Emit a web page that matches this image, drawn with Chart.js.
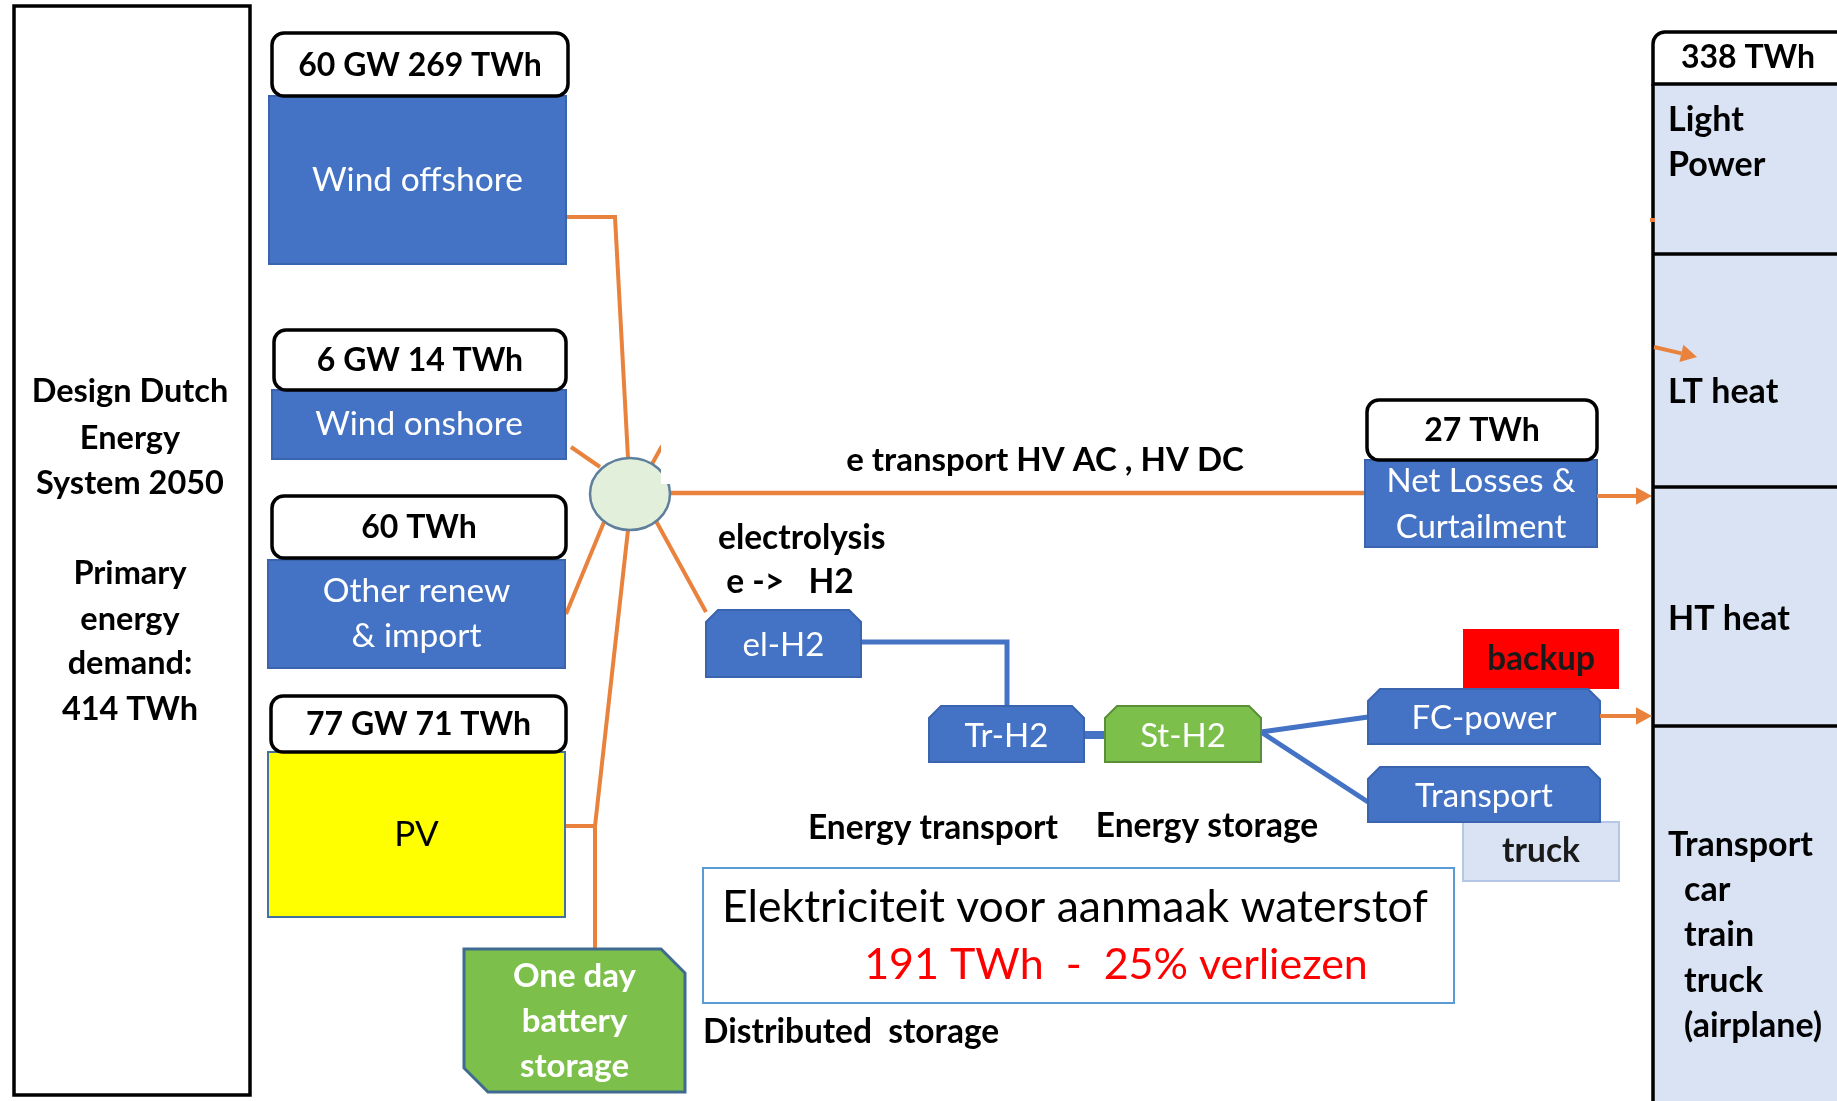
<!DOCTYPE html>
<html><head><meta charset="utf-8">
<script src="https://cdn.jsdelivr.net/npm/chart.js@4.4.1/dist/chart.umd.min.js"></script>
<style>html,body{margin:0;padding:0;background:#fff;overflow:hidden}canvas{display:block}</style>
</head><body>
<canvas id="c" width="1837" height="1101"></canvas>
<script>
// ---------------- DATA ----------------
const sourceNames = ['Wind offshore', 'Wind onshore', 'Other renew\n& import', 'PV'];
const sourceCapacityGW = [60, 6, null, 77];
const sourceEnergyTWh = [269, 14, 60, 71];
const primaryTitle = ['Design Dutch', 'Energy', 'System 2050', 'Primary', 'energy', 'demand:'];
const primaryDemandTWh = 414;
const finalDemandTWh = 338;
const demandCategories = [['Light', 'Power'], ['LT heat'], ['HT heat'], ['Transport', '  car', '  train', '  truck', '  (airplane)']];
const netLossesTWh = 27;
const netLossesName = ['Net Losses &', 'Curtailment'];
const h2Chain = ['el-H2', 'Tr-H2', 'St-H2'];
const h2Uses = ['FC-power', 'Transport'];
const h2UseTags = ['backup', 'truck'];
const storageName = ['One day', 'battery', 'storage'];
const h2ElectricityTWh = 191;
const h2LossPercent = 25;
const captions = {
  transport: 'e transport HV AC , HV DC',
  electrolysis: ['electrolysis', ' e ->   H2'],
  energyTransport: 'Energy transport',
  energyStorage: 'Energy storage',
  distributed: 'Distributed  storage',
  note: 'Elektriciteit voor aanmaak waterstof'
};

// ---------------- LAYOUT (diagram units = reference pixels) ----------------
const LAYOUT = {
  primary: [14, 6, 250, 1095],
  primaryLines: [392, 439, 484, 574, 620, 664, 710],
  sourceHdr: [[272, 33, 568, 96], [274, 330, 566, 390], [272, 496, 566, 558], [271, 696, 566, 752]],
  sourceBody: [[269, 96, 566, 264], [272, 390, 566, 459], [268, 560, 565, 668], [268, 752, 565, 917]],
  hub: [630, 494, 40, 36],
  battery: [464, 949, 685, 1092],
  lossHdr: [1367, 400, 1597, 460],
  lossBody: [1365, 460, 1597, 547],
  finalHdr: [1653, 32, 1860, 84],
  panel: [1653, 84, 1860, 1101],
  dividers: [254, 487, 726],
  elH2: [706, 610, 861, 677],
  trH2: [929, 706, 1084, 762],
  stH2: [1105, 706, 1261, 762],
  fc: [1368, 689, 1600, 744],
  tr: [1368, 767, 1600, 822],
  backup: [1463, 629, 1619, 689],
  truck: [1463, 822, 1619, 881],
  note: [703, 868, 1454, 1003]
};

const FONT = 'Lato, "Open Sans", sans-serif';
const BLUE = '#4472c4', ORANGE = '#e8823c', PANEL = '#dae3f3';

const diagramPlugin = {
  id: 'diagram',
  afterDraw(chart) {
    const ctx = chart.ctx, xs = chart.scales.x, ys = chart.scales.y;
    const X = v => xs.getPixelForValue(v), Y = v => ys.getPixelForValue(v);
    const R = r => [X(r[0]), Y(r[1]), X(r[2]), Y(r[3])];
    ctx.save();

    function rect(r, fill, stroke, lw) {
      const [a, b, c, d] = R(r);
      if (fill) { ctx.fillStyle = fill; ctx.fillRect(a, b, c - a, d - b); }
      if (stroke) { ctx.strokeStyle = stroke; ctx.lineWidth = lw || 1; ctx.strokeRect(a, b, c - a, d - b); }
    }
    function rrect(r, rad, fill, stroke, lw) {
      const [a, b, c, d] = R(r);
      ctx.beginPath(); ctx.roundRect(a, b, c - a, d - b, rad);
      if (fill) { ctx.fillStyle = fill; ctx.fill(); }
      if (stroke) { ctx.strokeStyle = stroke; ctx.lineWidth = lw; ctx.stroke(); }
    }
    function snipTop(r, cut, fill, stroke) {
      const [a, b, c, d] = R(r);
      ctx.beginPath();
      ctx.moveTo(a, b + cut); ctx.lineTo(a + cut, b); ctx.lineTo(c - cut, b); ctx.lineTo(c, b + cut);
      ctx.lineTo(c, d); ctx.lineTo(a, d); ctx.closePath();
      ctx.fillStyle = fill; ctx.fill();
      ctx.strokeStyle = stroke; ctx.lineWidth = 2; ctx.stroke();
    }
    function snipDiag(r, cut, fill, stroke) {
      const [a, b, c, d] = R(r);
      ctx.beginPath();
      ctx.moveTo(a, b); ctx.lineTo(c - cut, b); ctx.lineTo(c, b + cut);
      ctx.lineTo(c, d); ctx.lineTo(a + cut, d); ctx.lineTo(a, d - cut); ctx.closePath();
      ctx.fillStyle = fill; ctx.fill();
      ctx.strokeStyle = stroke; ctx.lineWidth = 3; ctx.stroke();
    }
    function line(pts, color, lw) {
      ctx.beginPath();
      pts.forEach((p, i) => i ? ctx.lineTo(X(p[0]), Y(p[1])) : ctx.moveTo(X(p[0]), Y(p[1])));
      ctx.strokeStyle = color; ctx.lineWidth = lw; ctx.lineJoin = 'miter'; ctx.stroke();
    }
    function arrow(p0, p1, color, lw, head) {
      const x0 = X(p0[0]), y0 = Y(p0[1]), x1 = X(p1[0]), y1 = Y(p1[1]);
      const ang = Math.atan2(y1 - y0, x1 - x0);
      const bx = x1 - head * Math.cos(ang), by = y1 - head * Math.sin(ang);
      ctx.beginPath(); ctx.moveTo(x0, y0); ctx.lineTo(bx, by);
      ctx.strokeStyle = color; ctx.lineWidth = lw; ctx.stroke();
      ctx.beginPath(); ctx.moveTo(x1, y1);
      ctx.lineTo(bx + head * 0.55 * Math.sin(ang), by - head * 0.55 * Math.cos(ang));
      ctx.lineTo(bx - head * 0.55 * Math.sin(ang), by + head * 0.55 * Math.cos(ang));
      ctx.closePath(); ctx.fillStyle = color; ctx.fill();
    }
    function text(s, x, y, size, color, weight, align) {
      ctx.font = (weight || 'normal') + ' ' + size + 'px ' + FONT;
      ctx.fillStyle = color; ctx.textAlign = align || 'center'; ctx.textBaseline = 'middle';
      ctx.fillText(s, X(x), Y(y));
    }
    function lines(arr, cx, cy, gap, size, color, weight, align) {
      const y0 = cy - gap * (arr.length - 1) / 2;
      arr.forEach((s, i) => text(s, cx, y0 + i * gap, size, color, weight, align));
    }
    const cx = r => (r[0] + r[2]) / 2, cy = r => (r[1] + r[3]) / 2;

    // ---- orange connectors (under boxes) ----
    const H = LAYOUT.hub;
    line([[566, 217], [615, 217], [628, H[1] - H[3]]], ORANGE, 4);
    line([[571, 447], [600, 467]], ORANGE, 4);
    line([[566, 614], [604, 522]], ORANGE, 4);
    line([[566, 826], [595, 826]], ORANGE, 4);
    line([[595, 949], [595, 826], [628, H[1] + H[3]]], ORANGE, 4);
    line([[656, 521], [706, 612]], ORANGE, 4);
    line([[652, 464], [662, 446]], ORANGE, 4);
    line([[H[0] + H[2], 493], [1365, 493]], ORANGE, 4.5);

    // ---- primary box ----
    rect(LAYOUT.primary, '#fff', '#000', 3.5);
    const pl = primaryTitle.concat([primaryDemandTWh + ' TWh']);
    pl.forEach((s, i) => text(s, 130, LAYOUT.primaryLines[i], 32.5, '#000', 'bold'));

    // ---- sources ----
    sourceNames.forEach((name, i) => {
      const hdr = LAYOUT.sourceHdr[i], body = LAYOUT.sourceBody[i];
      const isPV = name === 'PV';
      rect(body, isPV ? '#ffff00' : BLUE, isPV ? '#41719c' : '#3a64ad', 2);
      rrect(hdr, 12, '#fff', '#000', 3.5);
      const label = (sourceCapacityGW[i] != null ? sourceCapacityGW[i] + ' GW ' : '') + sourceEnergyTWh[i] + ' TWh';
      text(label, cx(hdr), cy(hdr) + 1, 32, '#000', 'bold');
      lines(name.split('\n'), cx(body), cy(body), 45, isPV ? 35 : 33.5, isPV ? '#000' : '#fff', 'normal');
    });

    // ---- hub ----
    ctx.beginPath(); ctx.ellipse(X(H[0]), Y(H[1]), H[2], H[3], 0, 0, Math.PI * 2);
    ctx.fillStyle = '#e2efda'; ctx.fill(); ctx.strokeStyle = '#5f7f9c'; ctx.lineWidth = 2.5; ctx.stroke();
    rect([661, 420, 712, 484], '#fff', null);

    // ---- battery ----
    snipDiag(LAYOUT.battery, 24, '#7cc04b', '#3e6b8f');
    lines(storageName, cx(LAYOUT.battery), 1021, 45, 33, '#fff', 'bold');

    // ---- transport caption ----
    text(captions.transport, 1045, 460, 33, '#000', 'bold');

    // ---- losses ----
    rect(LAYOUT.lossBody, BLUE, '#3a64ad', 2);
    rrect(LAYOUT.lossHdr, 12, '#fff', '#000', 3.5);
    text(netLossesTWh + ' TWh', cx(LAYOUT.lossHdr), cy(LAYOUT.lossHdr) + 1, 32, '#000', 'bold');
    lines(netLossesName, cx(LAYOUT.lossBody), 504, 46, 33, '#fff', 'normal');
    arrow([1597, 496], [1652, 496], ORANGE, 4, 16);

    // ---- right panel ----
    rect(LAYOUT.panel, PANEL, null);
    rrect(LAYOUT.finalHdr, [12, 0, 0, 0], '#fff', '#000', 3.5);
    text(finalDemandTWh + ' TWh', 1748, 58, 32, '#000', 'bold');
    line([[1653, 84], [1653, 1101]], '#000', 3.5);
    LAYOUT.dividers.forEach(y => line([[1653, y], [1837, y]], '#000', 3.5));
    const catY = [[120, 165], [392], [619], [845, 890, 935, 981, 1026]];
    demandCategories.forEach((cat, i) => cat.forEach((s, j) => {
      const ind = s.startsWith('  ');
      text(s.trim(), ind ? 1684 : 1668, catY[i][j], 34, '#000', 'bold', 'left');
    }));
    arrow([1654, 347], [1697, 357], ORANGE, 4, 16);
    line([[1650, 220], [1655, 220]], ORANGE, 4);

    // ---- electrolysis ----
    text(captions.electrolysis[0], 718, 538, 33.5, '#000', 'bold', 'left');
    text(captions.electrolysis[1], 718, 582, 33.5, '#000', 'bold', 'left');

    // ---- H2 chain ----
    line([[861, 642], [1007, 642], [1007, 706]], BLUE, 5);
    line([[1084, 735], [1105, 735]], BLUE, 8);
    line([[1261, 732], [1368, 717]], BLUE, 5);
    line([[1261, 732], [1368, 802]], BLUE, 5);
    const chainRects = [LAYOUT.elH2, LAYOUT.trH2, LAYOUT.stH2];
    h2Chain.forEach((s, i) => {
      const r = chainRects[i], green = s.startsWith('St');
      snipTop(r, 12, green ? '#7cc04b' : BLUE, green ? '#5a8f3a' : '#3a64ad');
      text(s, cx(r), cy(r) + 2, 33, '#fff', 'normal');
    });

    // ---- H2 uses ----
    rect(LAYOUT.backup, '#ff0000', null);
    text(h2UseTags[0], cx(LAYOUT.backup), cy(LAYOUT.backup), 33.5, '#1a1a1a', 'bold');
    rect(LAYOUT.truck, PANEL, '#b4c7e7', 2);
    [LAYOUT.fc, LAYOUT.tr].forEach((r, i) => {
      snipTop(r, 12, BLUE, '#3a64ad');
      text(h2Uses[i], cx(r), cy(r) + 2, 33, '#fff', 'normal');
    });
    text(h2UseTags[1], cx(LAYOUT.truck), cy(LAYOUT.truck), 33.5, '#1a1a1a', 'bold');
    arrow([1600, 716], [1652, 716], ORANGE, 4, 16);

    text(captions.energyTransport, 933, 828, 33.5, '#000', 'bold');
    text(captions.energyStorage, 1207, 826, 33.5, '#000', 'bold');

    // ---- note ----
    rect(LAYOUT.note, '#fff', '#5b9bd5', 2);
    text(captions.note, 1075, 908, 44.5, '#000', 'normal');
    text(h2ElectricityTWh + ' TWh  -  ' + h2LossPercent + '% verliezen', 1116, 965, 43, '#ff0000', 'normal');
    text(captions.distributed, 703, 1032, 33.5, '#000', 'bold', 'left');

    ctx.restore();
  }
};

new Chart(document.getElementById('c'), {
  type: 'scatter',
  data: { datasets: [{ data: [], pointRadius: 0 }] },
  options: {
    responsive: false, animation: false, events: [],
    layout: { padding: 0 },
    plugins: { legend: { display: false }, tooltip: { enabled: false } },
    scales: {
      x: { type: 'linear', min: 0, max: 1837, display: false },
      y: { type: 'linear', min: 0, max: 1101, reverse: true, display: false }
    }
  },
  plugins: [diagramPlugin]
});
</script>
</body></html>
